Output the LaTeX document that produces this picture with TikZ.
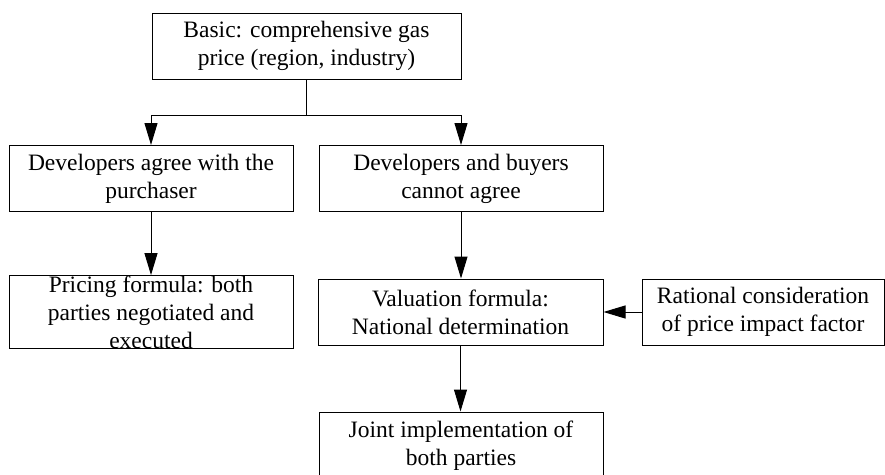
\documentclass[tikz,border=0pt]{standalone}
\usepackage{fontspec}
\setmainfont{Liberation Serif}
\usetikzlibrary{arrows.meta,positioning}

\begin{document}
\begin{tikzpicture}[x=1pt,y=-1pt,
  box/.style={draw,line width=1pt,minimum height=66pt,align=center,inner sep=0pt,
    font=\fontsize{23.5}{28}\selectfont},
  flow/.style={line width=1pt,-{Triangle[length=22pt,width=13pt]}}]
\useasboundingbox (0,0) rectangle (885,474);
\node[box,minimum width=309pt] (basic) at (306.5,46) {Basic: comprehensive gas\\price (region, industry)};
\node[box,minimum width=284pt] (agree) at (151,178.5) {Developers agree with the\\purchaser};
\node[box,minimum width=284pt] (cannot) at (461,178.5) {Developers and buyers\\cannot agree};
\node[box,minimum width=284pt] (pricing) at (151,312) {Pricing formula: both\\parties negotiated and\\executed};
\node[box,minimum width=285pt] (valuation) at (460.5,312) {Valuation formula:\\National determination};
\node[box,minimum width=242pt] (rational) at (763,312) {Rational consideration\\of price impact factor};
\node[box,minimum width=284pt,minimum height=67pt] (joint) at (461,445.5) {Joint implementation of\\both parties};
\coordinate (split) at (306.5,115);
\draw[line width=1pt] (basic) -- (split);
\draw[flow] (split) -| (agree.north);
\draw[flow] (split) -| (cannot.north);
\draw[flow] (agree) -- (pricing);
\draw[flow] (cannot) -- (cannot|-valuation.north);
\draw[flow] (valuation) -- (valuation|-joint.north);
\draw[flow] (rational) -- (valuation);
\end{tikzpicture}
\end{document}
